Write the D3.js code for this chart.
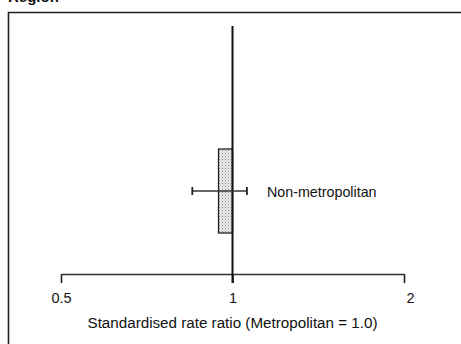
<!DOCTYPE html>
<html>
<head>
<meta charset="utf-8">
<script src="https://cdn.jsdelivr.net/npm/d3@7"></script>
<style>
  html, body { margin: 0; padding: 0; background: #fff; }
  svg { display: block; }
  text { font-family: "Liberation Sans", Arial, sans-serif; fill: #111; }
</style>
</head>
<body>
<svg id="chart" width="461" height="344"></svg>
<script>
// Standardised rate ratio by region, metropolitan as reference (1.0)
const categories = ["Non-metropolitan"];
const ratios = [0.945];
const ciLower = [0.85];
const ciUpper = [1.06];
const tickValues = [0.5, 1, 2];
const tickLabels = ["0.5", "1", "2"];
const referenceValue = 1;

const svg = d3.select("#chart");

// dotted (stippled) fill for the bars
const defs = svg.append("defs");
const pat = defs.append("pattern")
  .attr("id", "stipple")
  .attr("width", 3).attr("height", 3)
  .attr("patternUnits", "userSpaceOnUse");
pat.append("rect").attr("width", 3).attr("height", 3).attr("fill", "#ececec");
pat.append("rect").attr("x", 0).attr("y", 0).attr("width", 1).attr("height", 1).attr("fill", "#8a8a8a");
pat.append("rect").attr("x", 1.5).attr("y", 1.5).attr("width", 1).attr("height", 1).attr("fill", "#b0b0b0");

// panel heading (mostly clipped by the page top)
svg.append("text")
  .attr("x", 8).attr("y", 1.5)
  .attr("font-size", 15).attr("font-weight", "bold")
  .text("Region");

// panel frame: top and left edges
svg.append("path")
  .attr("d", "M8.5,344 V12.5 H461")
  .attr("fill", "none").attr("stroke", "#222").attr("stroke-width", 1.6);

const x = d3.scaleLog().domain([0.5, 2]).range([61, 404]);
const y = d3.scaleBand().domain(categories).range([149, 233]).padding(0);

const axisY = 274;

// x axis with downward ticks
const axis = d3.axisBottom(x)
  .tickValues(tickValues)
  .tickFormat((d, i) => tickLabels[i])
  .tickSize(9)
  .tickSizeOuter(0)
  .tickPadding(9.5);

const gAxis = svg.append("g")
  .attr("transform", `translate(0,${axisY})`)
  .call(axis)
  .attr("font-size", null)
  .attr("font-family", null);
gAxis.select(".domain").attr("stroke", "#333").attr("stroke-width", 1.3);
gAxis.selectAll(".tick line").attr("stroke", "#222").attr("stroke-width", 1.6);
gAxis.selectAll(".tick text")
  .style("font-size", "14.5px")
  .style("font-family", "'Liberation Sans', Arial, sans-serif")
  .attr("fill", "#111")
  .attr("dx", (d, i, n) => (i === n.length - 1 ? 6 : 0));

svg.append("text")
  .attr("x", x(referenceValue)).attr("y", 328)
  .attr("text-anchor", "middle")
  .attr("font-size", 15.2)
  .text("Standardised rate ratio (Metropolitan = 1.0)");

// bars from the reference line to each ratio
const rows = categories.map((c, i) => ({ c, v: ratios[i], lo: ciLower[i], hi: ciUpper[i] }));

svg.selectAll("rect.bar").data(rows).enter().append("rect")
  .attr("class", "bar")
  .attr("x", d => Math.min(x(d.v), x(referenceValue)))
  .attr("y", d => y(d.c))
  .attr("width", d => Math.abs(x(referenceValue) - x(d.v)))
  .attr("height", y.bandwidth())
  .attr("fill", "url(#stipple)")
  .attr("stroke", "#222").attr("stroke-width", 1.3);

// reference line at 1.0
svg.append("line")
  .attr("x1", x(referenceValue)).attr("x2", x(referenceValue))
  .attr("y1", 26).attr("y2", axisY + 9)
  .attr("stroke", "#111").attr("stroke-width", 2);

// confidence intervals
const ci = svg.selectAll("g.ci").data(rows).enter().append("g").attr("class", "ci");
ci.append("line")
  .attr("x1", d => x(d.lo)).attr("x2", d => x(d.hi))
  .attr("y1", d => y(d.c) + y.bandwidth() / 2).attr("y2", d => y(d.c) + y.bandwidth() / 2)
  .attr("stroke", "#333").attr("stroke-width", 1.4);
ci.append("line")
  .attr("x1", d => x(d.lo)).attr("x2", d => x(d.lo))
  .attr("y1", d => y(d.c) + y.bandwidth() / 2 - 4).attr("y2", d => y(d.c) + y.bandwidth() / 2 + 4)
  .attr("stroke", "#222").attr("stroke-width", 1.8);
ci.append("line")
  .attr("x1", d => x(d.hi)).attr("x2", d => x(d.hi))
  .attr("y1", d => y(d.c) + y.bandwidth() / 2 - 4).attr("y2", d => y(d.c) + y.bandwidth() / 2 + 4)
  .attr("stroke", "#222").attr("stroke-width", 1.8);

// category labels to the right of the interval
svg.selectAll("text.cat").data(rows).enter().append("text")
  .attr("class", "cat")
  .attr("x", d => x(d.hi) + 20)
  .attr("y", d => y(d.c) + y.bandwidth() / 2 + 6)
  .attr("font-size", 14.3)
  .text(d => d.c);
</script>
</body>
</html>
